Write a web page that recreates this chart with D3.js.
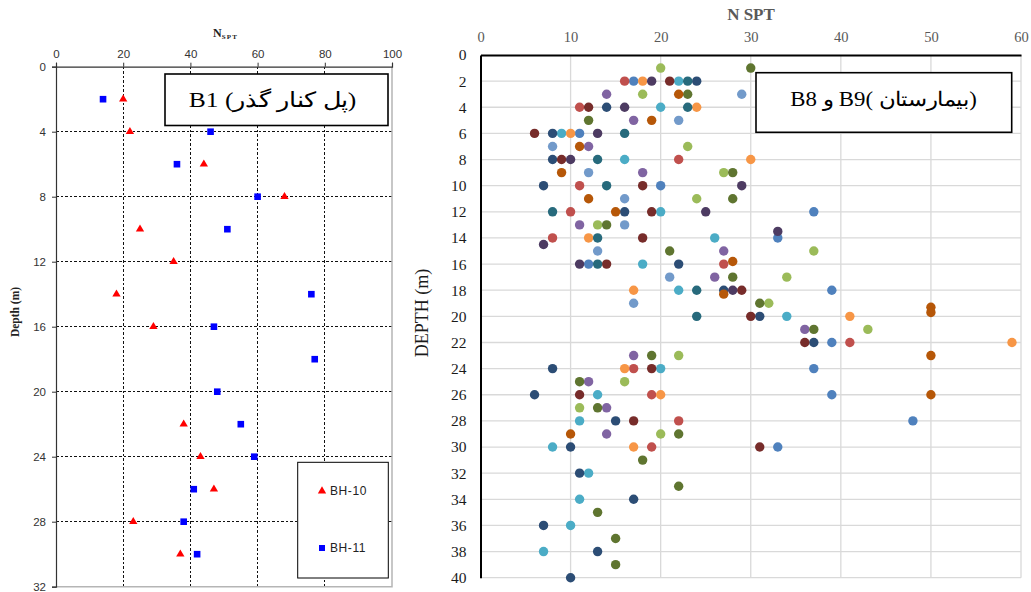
<!DOCTYPE html>
<html>
<head>
<meta charset="utf-8">
<script src="https://cdn.jsdelivr.net/npm/d3@7"></script>
<style>
  body { margin: 0; background: #fff; }
</style>
</head>
<body>
<svg id="chart" width="1031" height="592"></svg>
<script>
// ---- left chart (B1) ----
const leftXTicks = [0, 20, 40, 60, 80, 100];
const leftYTicks = [0, 4, 8, 12, 16, 20, 24, 28, 32];
const bh10Depth = [2, 4, 6, 8, 10, 12, 14, 16, 22, 24, 26, 28, 30];
const bh10N     = [20, 22, 44, 68, 25, 35, 18, 29, 38, 43, 47, 23, 37];
const bh11Depth = [2, 4, 6, 8, 10, 14, 16, 18, 20, 22, 24, 26, 28, 30];
const bh11N     = [14, 46, 36, 60, 51, 76, 47, 77, 48, 55, 59, 41, 38, 42];
const leftLegend = ["BH-10", "BH-11"];
const leftTitle = "B1 (پل کنار گذر)";

// ---- right chart (B8, B9) : [N SPT, depth] ----
const rightXTicks = [0, 10, 20, 30, 40, 50, 60];
const rightYTicks = d3.range(0, 41, 2);
const rightTitle = "(بیمارستان )B9 و B8";
const sBlue = [[17,2],[11,6],[20,10],[37,12],[33,14],[12,16],[39,18],[39,22],[37,24],[39,26],[48,28],[33,30]];
const sRed = [[16,2],[11,4],[22,8],[11,10],[10,12],[8,14],[27,16],[41,22],[17,24],[19,26],[22,28],[19,30]];
const sGreen = [[20,1],[18,3],[23,7],[27,9],[24,11],[13,13],[37,15],[34,17],[32,19],[43,21],[22,23],[16,25],[11,27],[20,29]];
const sPurple = [[14,3],[17,5],[12,7],[18,9],[11,13],[27,15],[26,17],[36,21],[17,23],[12,25],[14,27],[14,29]];
const sAqua = [[22,2],[20,4],[9,6],[16,8],[20,12],[26,14],[18,16],[22,18],[34,20],[20,24],[13,26],[11,28],[8,30],[12,32],[11,34],[10,36],[7,38]];
const sOrange = [[18,2],[24,4],[10,6],[30,8],[12,14],[17,18],[41,20],[59,22],[16,24],[20,26],[17,30]];
const sNavy = [[24,2],[14,4],[8,6],[8,8],[7,10],[16,12],[22,16],[27,18],[31,20],[37,22],[8,24],[6,26],[15,28],[10,30],[11,32],[17,34],[7,36],[13,38],[10,40]];
const sDarkRed = [[21,2],[12,4],[6,6],[9,8],[18,10],[19,12],[18,14],[14,16],[29,18],[30,20],[36,22],[19,24],[11,26],[17,28],[31,30]];
const sOlive = [[30,1],[23,3],[12,5],[28,9],[28,11],[14,13],[21,15],[28,17],[31,19],[37,21],[19,23],[11,25],[13,27],[22,29],[18,31],[22,33],[13,35],[15,37],[15,39]];
const sDarkPurple = [[19,2],[16,4],[13,6],[10,8],[29,10],[25,12],[33,13.5],[7,14.5],[11,16],[28,18]];
const sTeal = [[23,2],[23,4],[16,6],[13,8],[14,10],[8,12],[13,14],[13,16],[24,18],[24,20]];
const sBrown = [[22,3],[19,5],[11,7],[9,9],[12,11],[15,12],[28,15.8],[27,18.3],[50,19.3],[50,19.7],[50,23],[50,26],[10,29]];
const sLightBlue = [[29,3],[22,5],[8,7],[12,9],[16,11],[16,13],[13,15],[21,17],[17,19]];

const rightSeries = [sBlue, sRed, sGreen, sPurple, sAqua, sOrange, sNavy, sDarkRed, sOlive, sDarkPurple, sTeal, sBrown, sLightBlue];
const rightColors = ["#4F81BD", "#C0504D", "#9BBB59", "#8064A2", "#4BACC6", "#F79646",
                     "#2C4D75", "#772C2A", "#5F7530", "#4D3B62", "#276A7C", "#B65708", "#729ACA"];

const svg = d3.select("#chart");

// stretch a text horizontally so it spans the wanted width
function fitWidth(t, cx, y, w) {
    let len = t.node().getComputedTextLength();
    t.attr("transform", `translate(${cx},${y}) scale(${w / len},1)`);
}

// ================= left chart =================
{
    const x = d3.scaleLinear().domain([0, 100]).range([56, 392]);
    const y = d3.scaleLinear().domain([0, 32]).range([66.7, 586.7]);
    const g = svg.append("g");

    // dashed grid
    g.append("g").selectAll("line")
        .data(leftXTicks.slice(1, -1))
        .join("line")
        .attr("x1", d => x(d)).attr("x2", d => x(d))
        .attr("y1", y(0)).attr("y2", y(32))
        .attr("stroke", "#111").attr("stroke-dasharray", "2.5,2")
        .attr("shape-rendering", "crispEdges");
    g.append("g").selectAll("line")
        .data(leftYTicks.slice(1, -1))
        .join("line")
        .attr("x1", x(0)).attr("x2", x(100))
        .attr("y1", d => y(d)).attr("y2", d => y(d))
        .attr("stroke", "#111").attr("stroke-dasharray", "2.5,2")
        .attr("shape-rendering", "crispEdges");

    // right / bottom frame
    g.append("path")
        .attr("d", `M${x(100)},${y(0)}V${y(32)}H${x(0)}`)
        .attr("fill", "none").attr("stroke", "#b5b5b5").attr("stroke-width", 1.5);

    let ax = g.append("g")
        .attr("transform", `translate(0,${y(0)})`)
        .call(d3.axisTop(x).tickValues(leftXTicks).tickSize(4).tickPadding(5));
    let ay = g.append("g")
        .attr("transform", `translate(${x(0)},0)`)
        .call(d3.axisLeft(y).tickValues(leftYTicks).tickSize(4).tickPadding(6));
    for (let a of [ax, ay]) {
        a.selectAll("text").attr("font-family", "Arial, 'Liberation Sans'").attr("font-size", 11.5).attr("fill", "#333");
        a.selectAll("line").attr("stroke", "#333");
        a.select(".domain").attr("stroke", "#333").attr("stroke-width", 1.2);
    }

    // axis titles
    let nt = g.append("text")
        .attr("x", 213).attr("y", 37)
        .attr("font-family", "'Liberation Serif', 'Times New Roman', serif")
        .attr("font-weight", "bold").attr("font-size", 12).attr("fill", "#222");
    nt.append("tspan").text("N");
    nt.append("tspan").attr("font-size", 7).attr("dy", 2).attr("letter-spacing", 1.2).text("SPT");

    g.append("text")
        .attr("transform", "translate(19,312) rotate(-90)")
        .attr("text-anchor", "middle")
        .attr("font-family", "'Liberation Serif', 'Times New Roman', serif")
        .attr("font-weight", "bold").attr("font-size", 11.5).attr("fill", "#222")
        .text("Depth (m)");

    // title box
    g.append("rect")
        .attr("x", 165).attr("y", 74).attr("width", 223).attr("height", 51.5)
        .attr("fill", "#fff").attr("stroke", "#000").attr("stroke-width", 1.6);
    let lt = g.append("text")
        .attr("text-anchor", "middle")
        .attr("font-family", "'Liberation Serif', 'Times New Roman', serif")
        .attr("font-size", 21).attr("fill", "#000")
        .text(leftTitle);
    fitWidth(lt, 272.5, 106.5, 169);

    // points
    const tri = d3.symbol().type(d3.symbolTriangle).size(30);
    g.append("g").selectAll("path")
        .data(bh10N.map((n, i) => ({ n: n, depth: bh10Depth[i] })))
        .join("path")
        .attr("d", tri)
        .attr("transform", d => `translate(${x(d.n)},${y(d.depth)})`)
        .attr("fill", "#ff0000");
    g.append("g").selectAll("rect")
        .data(bh11N.map((n, i) => ({ n: n, depth: bh11Depth[i] })))
        .join("rect")
        .attr("x", d => x(d.n) - 3.3).attr("y", d => y(d.depth) - 3.3)
        .attr("width", 6.6).attr("height", 6.6)
        .attr("fill", "#0000ff");

    // legend
    g.append("rect")
        .attr("x", 297.7).attr("y", 462.3).attr("width", 90.6).attr("height", 115.7)
        .attr("fill", "#fff").attr("stroke", "#000").attr("stroke-width", 1);
    let lg = g.append("g").selectAll("g")
        .data(leftLegend)
        .join("g")
        .attr("transform", (d, i) => `translate(322,${491 + i * 57})`);
    lg.filter((d, i) => i == 0).append("path").attr("d", tri).attr("fill", "#ff0000");
    lg.filter((d, i) => i == 1).append("rect")
        .attr("x", -3).attr("y", -3).attr("width", 6).attr("height", 6).attr("fill", "#0000ff");
    lg.append("text")
        .attr("x", 8).attr("dy", "0.36em")
        .attr("font-family", "Arial, 'Liberation Sans'").attr("font-size", 12)
        .attr("letter-spacing", 0.6).attr("fill", "#222")
        .text(d => d);
}

// ================= right chart =================
{
    const x = d3.scaleLinear().domain([0, 60]).range([480.5, 1021]);
    const y = d3.scaleLinear().domain([0, 40]).range([55, 577.7]);
    const g = svg.append("g");

    g.append("g").selectAll("line")
        .data(rightXTicks.slice(1))
        .join("line")
        .attr("x1", d => x(d)).attr("x2", d => x(d))
        .attr("y1", y(0)).attr("y2", y(40))
        .attr("stroke", "#d9d9d9").attr("stroke-width", 1.3);
    g.append("g").selectAll("line")
        .data(rightYTicks.slice(1))
        .join("line")
        .attr("x1", x(0)).attr("x2", x(60))
        .attr("y1", d => y(d)).attr("y2", d => y(d))
        .attr("stroke", "#d9d9d9").attr("stroke-width", 1.3);

    let ax = g.append("g")
        .attr("transform", `translate(0,${y(0)})`)
        .call(d3.axisTop(x).tickValues(rightXTicks).tickSize(0).tickPadding(13));
    ax.selectAll("text").attr("font-family", "'Liberation Serif', 'Times New Roman', serif")
        .attr("font-size", 14.5).attr("fill", "#595959");
    let ay = g.append("g")
        .attr("transform", `translate(${x(0)},0)`)
        .call(d3.axisLeft(y).tickValues(rightYTicks).tickSize(0).tickPadding(14));
    ay.selectAll("text").attr("font-family", "'Liberation Serif', 'Times New Roman', serif")
        .attr("font-size", 15.5).attr("fill", "#1a1a1a");
    for (let a of [ax, ay]) a.select(".domain").attr("stroke", "#000").attr("stroke-width", 2);

    g.append("text")
        .attr("x", 751).attr("y", 20)
        .attr("text-anchor", "middle")
        .attr("font-family", "'Liberation Serif', 'Times New Roman', serif")
        .attr("font-weight", "bold").attr("font-size", 17).attr("fill", "#595959")
        .text("N SPT");
    g.append("text")
        .attr("transform", "translate(428,313) rotate(-90)")
        .attr("text-anchor", "middle")
        .attr("font-family", "'Liberation Serif', 'Times New Roman', serif")
        .attr("font-size", 18).attr("fill", "#1a1a1a")
        .text("DEPTH (m)");

    // points, drawn series after series
    rightSeries.forEach((s, i) => {
        g.append("g").selectAll("circle")
            .data(s)
            .join("circle")
            .attr("cx", d => x(d[0]))
            .attr("cy", d => y(d[1]))
            .attr("r", 4.7)
            .attr("fill", rightColors[i]);
    });

    // title box
    g.append("rect")
        .attr("x", 756).attr("y", 72.7).attr("width", 255.7).attr("height", 59.6)
        .attr("fill", "#fff").attr("stroke", "#000").attr("stroke-width", 1.6);
    let rt = g.append("text")
        .attr("text-anchor", "middle")
        .attr("direction", "rtl")
        .attr("font-family", "'Liberation Serif', 'Times New Roman', serif")
        .attr("font-size", 20).attr("fill", "#000")
        .text(rightTitle);
    fitWidth(rt, 883.5, 106, 193);
}
</script>
</body>
</html>
